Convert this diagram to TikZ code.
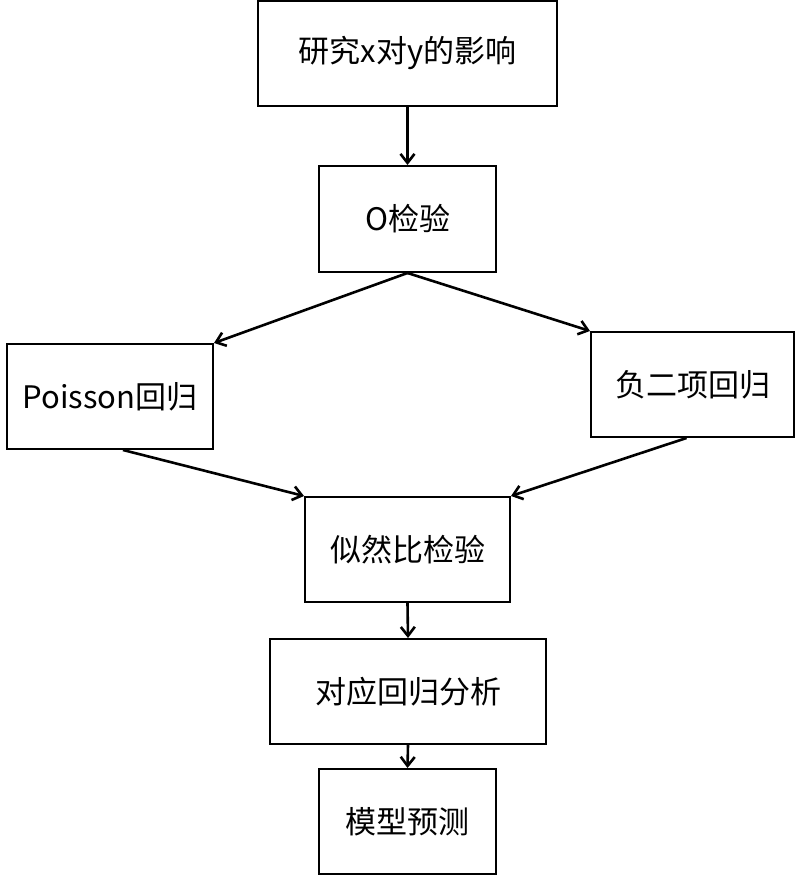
\documentclass[tikz,border=0pt]{standalone}
\usetikzlibrary{arrows.meta}
\usepackage{fontspec}
\setmainfont{Noto Sans CJK SC}
\begin{document}
\begin{tikzpicture}[x=1pt,y=-1pt,
  box/.style={draw,line width=2pt,inner sep=0pt,font=\fontsize{31}{36}\selectfont},
  arr/.style={->,line width=2.6pt,>={Straight Barb[length=9pt,width=14pt]}}]
\useasboundingbox (0,0) rectangle (802,877);
\node[box,minimum width=299pt,minimum height=105pt] (a) at (407.5,53.5) {研究x对y的影响};
\node[box,minimum width=177pt,minimum height=106pt] (b) at (407.5,219) {O检验};
\node[box,minimum width=206pt,minimum height=105pt] (c) at (110,396.5) {Poisson回归};
\node[box,minimum width=203pt,minimum height=105pt] (d) at (692.5,384.5) {负二项回归};
\node[box,minimum width=205pt,minimum height=105pt] (e) at (407.5,549.5) {似然比检验};
\node[box,minimum width=276pt,minimum height=105pt] (f) at (408,691.5) {对应回归分析};
\node[box,minimum width=177pt,minimum height=105pt] (g) at (407.5,821.5) {模型预测};
\coordinate (c1) at ([xshift=13pt]c.south);
\coordinate (d1) at ([xshift=-6pt]d.south);
\draw[arr] (a.south) -- (b.north);
\draw[arr] (b.south) -- (c.north east);
\draw[arr] (b.south) -- (d.north west);
\draw[arr] (c1) -- (e.north west);
\draw[arr] (d1) -- (e.north east);
\draw[arr] (e.south) -- (f.north);
\draw[arr] (f.south) -- (g.north);
\end{tikzpicture}
\end{document}
